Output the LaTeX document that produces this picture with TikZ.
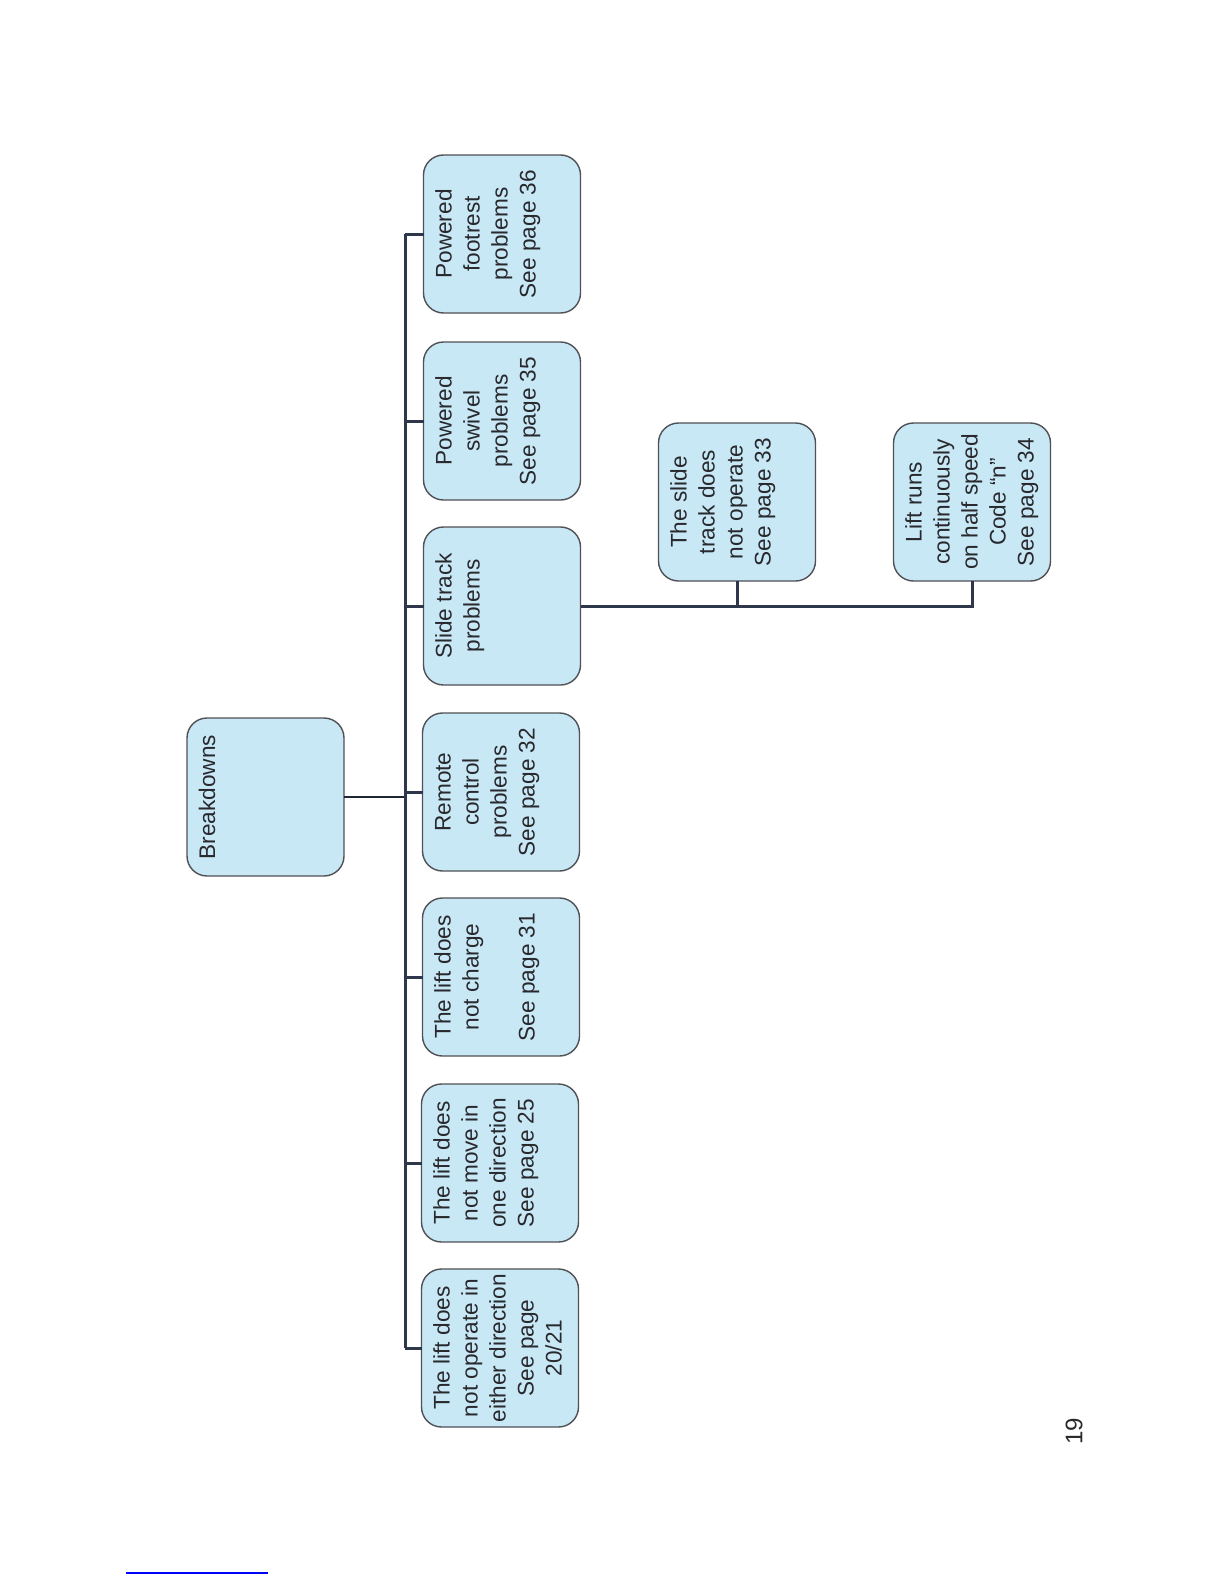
\documentclass[tikz,border=0pt]{standalone}
\usepackage{fontspec}
\setmainfont{Liberation Sans}
\definecolor{boxfill}{RGB}{200,232,246}
\definecolor{boxline}{RGB}{80,80,85}
\definecolor{connline}{RGB}{46,56,74}
\definecolor{txt}{RGB}{40,40,45}
\newcommand{\boxtext}[1]{\rotatebox{90}{\parbox[c][78.5pt][t]{79pt}{\centering\fontsize{11.3}{14}\selectfont\color{txt}\rule{0pt}{14pt}#1}}}
\tikzset{
  fbox/.style={draw=boxline, line width=0.7pt, fill=boxfill, rounded corners=10pt, inner sep=0pt, outer sep=0pt},
  conn/.style={draw=connline, line width=1.5pt},
  thinconn/.style={draw=connline!70!black, line width=1pt}
}
\begin{document}
\begin{tikzpicture}[x=0.5pt,y=-0.5pt]
\useasboundingbox (0,0) rectangle (1224,1584);
\fill[white] (0,0) rectangle (1224,1584);
\coordinate (sp) at (405,0);
\node[fbox] (brk) at (265.5,797) {\boxtext{Breakdowns}};
\node[fbox] (c1) at (502,234) {\boxtext{Powered\\footrest\\problems\\See page 36}};
\node[fbox] (c2) at (502,421) {\boxtext{Powered\\swivel\\problems\\See page 35}};
\node[fbox] (c3) at (502,606) {\boxtext{Slide track\\problems}};
\node[fbox] (c4) at (501,792) {\boxtext{Remote\\control\\problems\\See page 32}};
\node[fbox] (c5) at (501,977) {\boxtext{The lift does\\not charge\\\mbox{}\\See page 31}};
\node[fbox] (c6) at (500,1163) {\boxtext{The lift does\\not move in\\one direction\\See page 25}};
\node[fbox] (c7) at (500,1348) {\boxtext{The lift does\\not operate in\\either direction\\See page\\20/21}};
\node[fbox] (s1) at (737,502) {\boxtext{The slide\\track does\\not operate\\See page 33}};
\node[fbox] (s2) at (972,502) {\boxtext{Lift runs\\continuously\\on half speed\\Code “n”\\See page 34}};
% connectors
\draw[thinconn] (brk.east) -- (brk.east -| sp);
\draw[conn] (c1.west -| sp) -- (c7.west -| sp);
\foreach \n in {c1,c2,c3,c4,c5,c6,c7}{
  \draw[conn] (\n.west -| sp) -- (\n.west);
}
\draw[conn] (c3.east) -- (c3.east -| s2.south) -- (s2.south);
\draw[conn] (s1.south) -- (s1.south |- c3.east);
% page number and footnote rule
\node[rotate=90, font=\fontsize{12}{14}\selectfont, text=txt] (pg) at (1074,1431) {19};
\draw[blue, line width=0.8pt] (126,1573) -- (268,1573);
\end{tikzpicture}
\end{document}
